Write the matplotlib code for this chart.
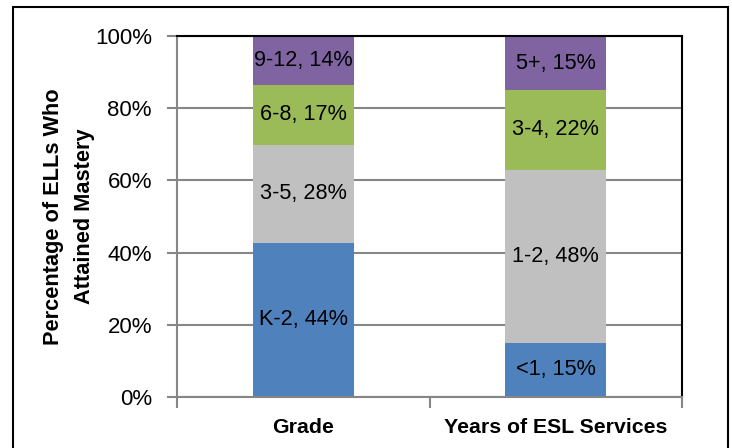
import matplotlib.pyplot as plt
import matplotlib.ticker as ticker
import numpy as np
from matplotlib.patches import Rectangle

plt.rcParams['font.family'] = ['Liberation Sans', 'DejaVu Sans']

categories = ['Grade', 'Years of ESL Services']
grade_labels = ['K-2', '3-5', '6-8', '9-12']
grade_values = [44, 28, 17, 14]
years_labels = ['<1', '1-2', '3-4', '5+']
years_values = [15, 48, 22, 15]
colors = ['#4F81BD', '#C0C0C0', '#9BBB59', '#8064A2']

fig = plt.figure(figsize=(7.32, 4.48), dpi=100)
ax = fig.add_axes([0.2418, 0.1138, 0.6899, 0.8058])

# 100% stacked: each column normalised to its own total
for xi, (labels, values) in enumerate([(grade_labels, grade_values),
                                       (years_labels, years_values)]):
    vals = np.array(values, dtype=float)
    share = vals / vals.sum() * 100
    bottom = 0.0
    for lab, v, s, c in zip(labels, values, share, colors):
        ax.bar(xi, s, bottom=bottom, width=0.4, color=c, zorder=2)
        ax.text(xi, bottom + s / 2, f'{lab}, {v}%', ha='center', va='center',
                fontsize=15.6, color='black', zorder=3)
        bottom += s

ax.set_xlim(-0.5, 1.5)
ax.set_ylim(0, 100)
ax.set_yticks(np.arange(0, 101, 20))
ax.yaxis.set_major_formatter(ticker.FuncFormatter(lambda v, p: f'{v:.0f}%'))
ax.yaxis.grid(True, color='#868686', linewidth=1.5, zorder=1)
ax.set_axisbelow(True)

ax.set_xticks([0, 1])
ax.set_xticklabels(categories, fontsize=15.3, fontweight='bold')
ax.set_xticks([-0.5, 0.5, 1.5], minor=True)
ax.tick_params(axis='x', which='major', length=0, pad=15)
ax.tick_params(axis='x', which='minor', length=8, width=1.5, color='#868686')
ax.tick_params(axis='y', length=7, width=1.5, color='#868686', labelsize=16, pad=11)

for side in ['left', 'bottom']:
    ax.spines[side].set_color('#868686')
    ax.spines[side].set_linewidth(1.5)
for side in ['top', 'right']:
    ax.spines[side].set_color('black')
    ax.spines[side].set_linewidth(1.5)

ax.set_ylabel('Percentage of ELLs Who\nAttained Mastery', fontsize=15.7,
              fontweight='bold', linespacing=1.6, labelpad=0)

# outer frame around the chart
fig.patches.append(Rectangle((13 / 732, -0.05), 715 / 732, 1.05 - 7 / 448,
                             transform=fig.transFigure, fill=False,
                             edgecolor='black', linewidth=1.5))

fig.savefig('out.png', dpi=100)
